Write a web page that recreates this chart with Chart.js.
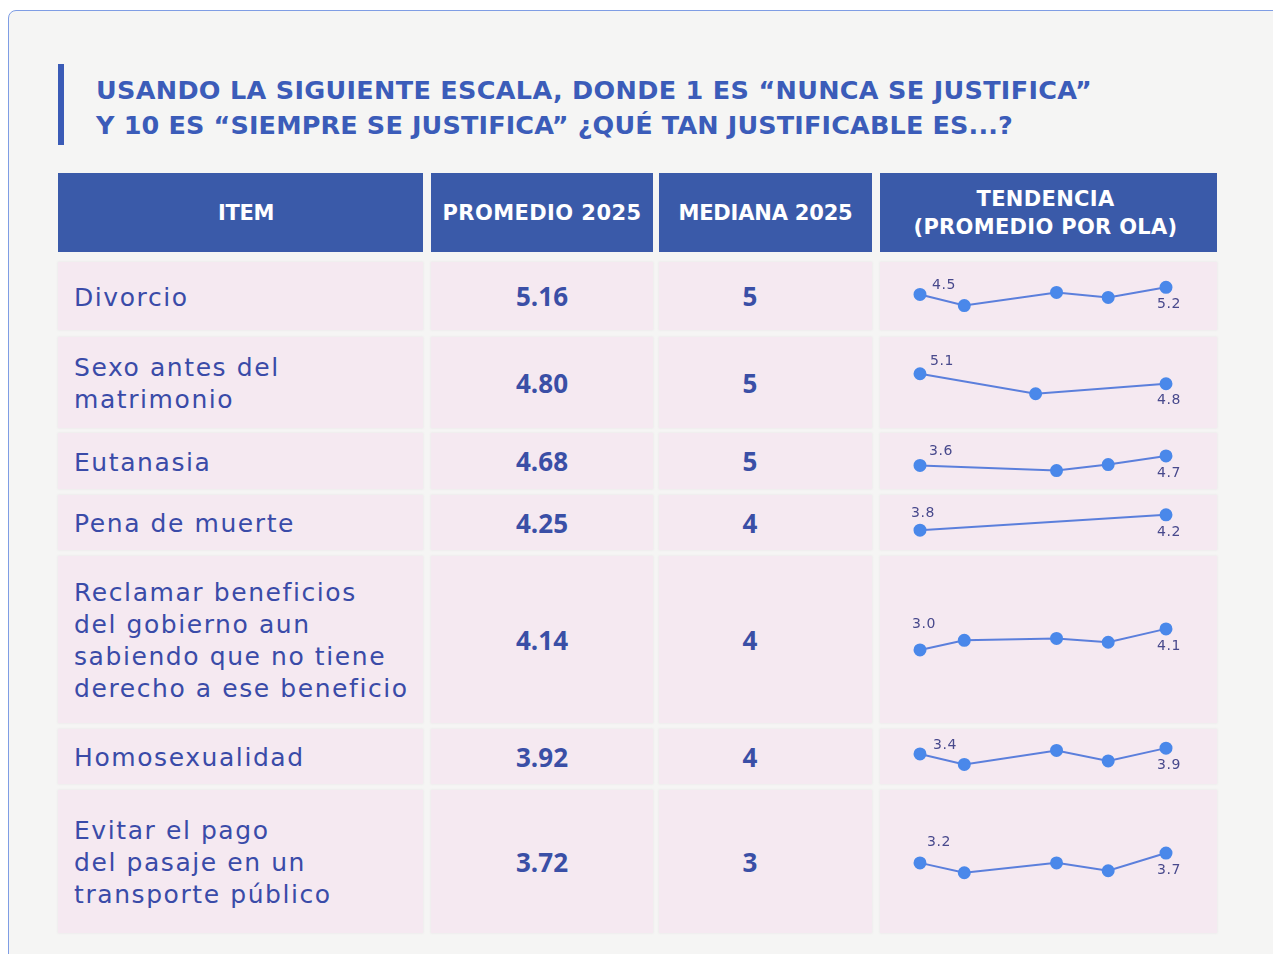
<!DOCTYPE html>
<html lang="es">
<head>
<meta charset="utf-8">
<script src="https://cdn.jsdelivr.net/npm/chart.js@4.4.1/dist/chart.umd.min.js"></script>
<style>
  html,body{margin:0;padding:0;background:#ffffff;width:1273px;height:954px;overflow:hidden;}
  #card{position:absolute;left:8px;top:10px;width:1290px;height:980px;border:1px solid #7f9de4;border-radius:8px;background:#f5f5f4;}
  .abs{position:absolute;box-sizing:border-box;}
  #bar{background:#3a5bb6;}
  .title{font-family:"DejaVu Sans",sans-serif;font-weight:700;font-size:25.5px;color:#3b5cb9;white-space:nowrap;}
  .hdr{background:#3a5aa9;color:#ffffff;font-family:"DejaVu Sans",sans-serif;font-weight:700;font-size:21px;display:flex;flex-direction:column;align-items:center;justify-content:center;text-align:center;line-height:28px;}
  .hdr span{display:inline-block;white-space:nowrap;}
  .cell{background:#f5e9f1;box-shadow:0 0 2px rgba(200,190,200,0.35);}
  .item{font-family:"DejaVu Sans",sans-serif;font-size:25px;color:#3a4ba8;line-height:32px;display:flex;align-items:center;padding-left:16px;padding-top:3px;white-space:nowrap;}
  .num{font-family:"Open Sans",sans-serif;font-weight:700;font-size:26px;color:#3a4fa6;display:flex;align-items:center;justify-content:center;}
  .med{padding-right:31px;}
  .meas{position:absolute;left:100px;top:0;white-space:nowrap;visibility:hidden;}
  canvas{position:absolute;}
</style>
</head>
<body>
<div id="card"></div>
<div id="root"></div>
<script>
// ---------- data ----------
const titulo1 = "USANDO LA SIGUIENTE ESCALA, DONDE 1 ES “NUNCA SE JUSTIFICA”";
const titulo2 = "Y 10 ES “SIEMPRE SE JUSTIFICA” ¿QUÉ TAN JUSTIFICABLE ES...?";
const encabezados = [["ITEM"], ["PROMEDIO 2025"], ["MEDIANA 2025"], ["TENDENCIA", "(PROMEDIO POR OLA)"]];
const items = [
  "Divorcio",
  "Sexo antes del<br>matrimonio",
  "Eutanasia",
  "Pena de muerte",
  "Reclamar beneficios<br>del gobierno aun<br>sabiendo que no tiene<br>derecho a ese beneficio",
  "Homosexualidad",
  "Evitar el pago<br>del pasaje en un<br>transporte público"
];
const promedio2025 = ["5.16", "4.80", "4.68", "4.25", "4.14", "3.92", "3.72"];
const mediana2025 = [5, 5, 5, 4, 4, 4, 3];
// wave timing (relative position of each survey wave on the time axis)
const olaTiempo = [0, 18, 47, 55.5, 76.5, 100];
// average per wave (null = item not asked in that wave)
const tendDivorcio       = [4.5, 3.4, null, 4.7, 4.2, 5.2];
const tendSexo           = [5.1, null, 4.5, null, null, 4.8];
const tendEutanasia      = [3.6, null, null, 3.0, 3.7, 4.7];
const tendPena           = [3.8, null, null, null, null, 4.2];
const tendReclamar       = [3.0, 3.5, null, 3.6, 3.4, 4.1];
const tendHomosexualidad = [3.4, 2.5, null, 3.7, 2.8, 3.9];
const tendEvitar         = [3.2, 2.7, null, 3.2, 2.8, 3.7];
const tendencias = [tendDivorcio, tendSexo, tendEutanasia, tendPena, tendReclamar, tendHomosexualidad, tendEvitar];

// ---------- layout / style ----------
const cols = [[58, 365], [431, 222], [659, 213], [880, 337]];
const hdrTop = 173, hdrH = 79;
const rows = [[262, 68], [337, 91], [433, 56], [495, 55], [556, 167], [729, 55], [790, 143]];
const yRanges = [[1.73, 6.96], [3.7, 5.975], [1.74, 6.48], [3.476, 4.524], [-0.43, 7.52], [1.46, 4.9], [0.02, 6.52]];
const firstLabelOffset = [[24, -9], [22, -12], [21, -14], [3, -17], [4, -26], [25, -9], [19, -21]];
const lastLabelOffset = [3, 17];
const titleWidths = [996, 917];
const hdrWidths = [[56], [199], [174], [138, 264]];
const itemRefWidth = 221; // width of "Pena de muerte" line

const root = document.getElementById('root');
function add(cls, x, y, w, h, html) {
  const d = document.createElement('div');
  d.className = 'abs ' + cls;
  d.style.left = x + 'px'; d.style.top = y + 'px';
  if (w != null) d.style.width = w + 'px';
  if (h != null) d.style.height = h + 'px';
  if (html != null) d.innerHTML = html;
  root.appendChild(d);
  return d;
}
function fit(el, target) {
  el.style.letterSpacing = '0px';
  const w = el.getBoundingClientRect().width;
  const n = el.textContent.length;
  const ls = (target - w) / n;
  el.style.letterSpacing = ls + 'px';
  return ls;
}
const bar = add('', 58, 64, 6, 81); bar.id = 'bar';
const t1 = add('title', 96, 75, null, null, titulo1);
const t2 = add('title', 96, 110, null, null, titulo2);
fit(t1, titleWidths[0]); fit(t2, titleWidths[1]);

const hdrDivs = [];
encabezados.forEach((lines, i) => {
  const d = add('hdr', cols[i][0], hdrTop, cols[i][1], hdrH);
  hdrDivs.push(d);
  lines.forEach((ln, j) => {
    const s = document.createElement('span');
    s.textContent = ln;
    d.appendChild(s);
    fit(s, hdrWidths[i][j]);
  });
});
hdrDivs[0].style.paddingLeft = '11px';
hdrDivs[3].style.paddingRight = '6px';

// item letter spacing from a reference line
const m = document.createElement('span');
m.className = 'meas item'; m.style.padding = '0'; m.style.display = 'inline-block';
m.textContent = 'Pena de muerte';
document.body.appendChild(m);
const itemLS = fit(m, itemRefWidth);
m.remove();

const labelPlugin = {
  id: 'endLabels',
  afterDatasetsDraw(chart, args, opts) {
    const ctx = chart.ctx;
    const meta = chart.getDatasetMeta(0);
    const data = chart.data.datasets[0].data;
    const idx = [];
    data.forEach((d, i) => { if (d.y !== null) idx.push(i); });
    const f = idx[0], l = idx[idx.length - 1];
    ctx.save();
    ctx.font = '14px "DejaVu Sans", sans-serif';
    if ('letterSpacing' in ctx) ctx.letterSpacing = '0.6px';
    ctx.fillStyle = '#48498c';
    ctx.textAlign = 'center';
    ctx.textBaseline = 'middle';
    const pf = meta.data[f], pl = meta.data[l];
    ctx.fillText(data[f].y.toFixed(1), pf.x + opts.first[0], pf.y + opts.first[1]);
    ctx.fillText(data[l].y.toFixed(1), pl.x + opts.last[0], pl.y + opts.last[1]);
    ctx.restore();
  }
};

rows.forEach((r, i) => {
  const [top, h] = r;
  const it = add('cell item', cols[0][0], top, cols[0][1], h, items[i]);
  it.style.letterSpacing = itemLS + 'px';
  add('cell num', cols[1][0], top, cols[1][1], h, promedio2025[i]);
  add('cell num med', cols[2][0], top, cols[2][1], h, mediana2025[i]);
  add('cell', cols[3][0], top, cols[3][1], h);
  const cv = document.createElement('canvas');
  cv.width = cols[3][1]; cv.height = h;
  cv.style.left = cols[3][0] + 'px'; cv.style.top = top + 'px';
  cv.style.width = cols[3][1] + 'px'; cv.style.height = h + 'px';
  root.appendChild(cv);
  const pts = olaTiempo.map((x, k) => ({ x: x, y: tendencias[i][k] }));
  new Chart(cv, {
    type: 'line',
    data: { datasets: [{
      data: pts,
      borderColor: '#5b7fdc',
      borderWidth: 2,
      pointBackgroundColor: '#4a88ea',
      pointBorderColor: '#4a88ea',
      pointRadius: 5.5,
      pointHoverRadius: 5.5,
      spanGaps: true,
      tension: 0,
      clip: false
    }]},
    options: {
      responsive: false,
      maintainAspectRatio: false,
      devicePixelRatio: 1,
      animation: false,
      events: [],
      layout: { padding: { left: 40, right: 51, top: 0, bottom: 0 } },
      scales: {
        x: { type: 'linear', min: 0, max: 100, display: false },
        y: { min: yRanges[i][0], max: yRanges[i][1], display: false }
      },
      plugins: {
        legend: { display: false },
        tooltip: { enabled: false },
        endLabels: { first: firstLabelOffset[i], last: lastLabelOffset }
      }
    },
    plugins: [labelPlugin]
  });
});
</script>
</body>
</html>
